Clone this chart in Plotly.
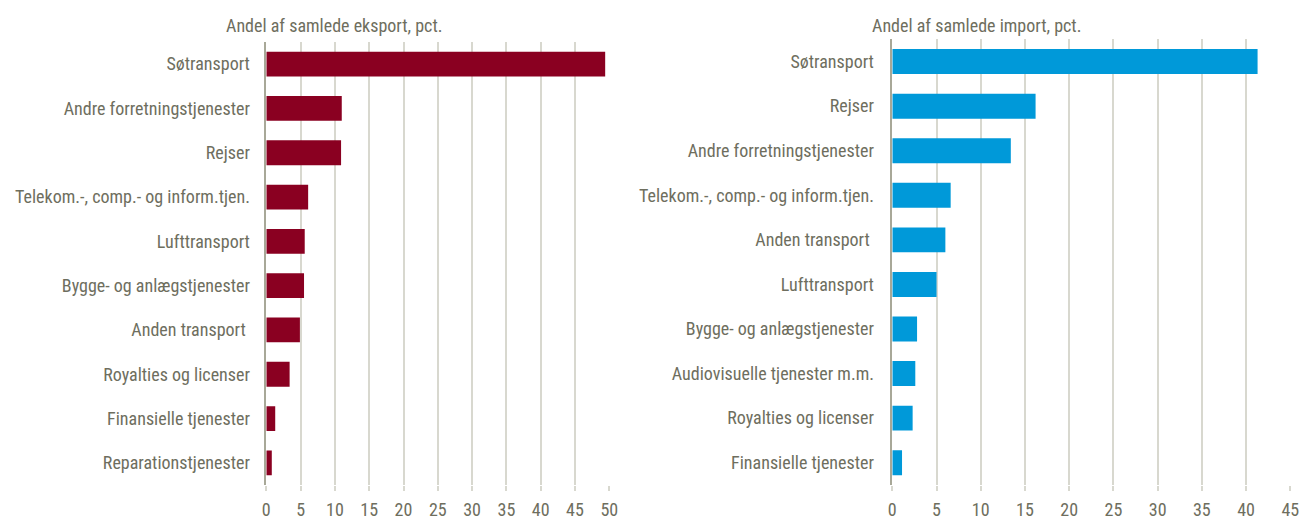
import plotly.graph_objects as go

export_cats = ["Søtransport", "Andre forretningstjenester", "Rejser",
               "Telekom.-, comp.- og inform.tjen.", "Lufttransport",
               "Bygge- og anlægstjenester", "Anden transport ",
               "Royalties og licenser", "Finansielle tjenester",
               "Reparationstjenester"]
export_vals = [49.4, 11.0, 10.9, 6.1, 5.6, 5.5, 4.9, 3.4, 1.3, 0.8]

import_cats = ["Søtransport", "Rejser", "Andre forretningstjenester",
               "Telekom.-, comp.- og inform.tjen.", "Anden transport ",
               "Lufttransport", "Bygge- og anlægstjenester",
               "Audiovisuelle tjenester m.m.", "Royalties og licenser",
               "Finansielle tjenester"]
import_vals = [41.3, 16.2, 13.4, 6.6, 6.0, 5.0, 2.8, 2.6, 2.3, 1.1]

left_ticks = list(range(0, 51, 5))
right_ticks = list(range(0, 46, 5))

title_left = "Andel af samlede eksport, pct."
title_right = "Andel af samlede import, pct."

TXT = "#6E6E5E"
GRID = "#D8D8CF"
ZERO = "#A8A898"
FONT = "Liberation Sans Narrow, Roboto Condensed, Arial Narrow, Liberation Sans, sans-serif"
FS = 18

fig = go.Figure()
fig.add_trace(go.Bar(x=export_vals, y=export_cats, orientation="h",
                     marker=dict(color="#8A0021", line=dict(width=0)),
                     xaxis="x", yaxis="y", showlegend=False))
fig.add_trace(go.Bar(x=import_vals, y=import_cats, orientation="h",
                     marker=dict(color="#0099D9", line=dict(width=0)),
                     xaxis="x2", yaxis="y2", showlegend=False))

def xax(domain, ticks, rng, anchor):
    return dict(domain=domain, range=rng, tickvals=ticks, ticktext=[str(t) for t in ticks],
                showgrid=True, gridcolor=GRID, gridwidth=1.5, zeroline=False,
                ticks="outside", ticklen=5, tickcolor=GRID, tickwidth=1.5,
                showline=False, anchor=anchor, fixedrange=True, automargin=False,
                tickfont=dict(size=FS, color=TXT, family=FONT), ticklabelstandoff=3)

def yax(domain, cats, anchor, standoff):
    return dict(domain=domain, type="category", categoryorder="array",
                categoryarray=list(reversed(cats)), showline=True, linecolor=ZERO,
                linewidth=1.5, ticks="", anchor=anchor, showgrid=False, automargin=False,
                fixedrange=True,
                tickfont=dict(size=FS, color=TXT, family=FONT), ticklabelstandoff=standoff)

fig.update_layout(
    width=1302, height=520,
    margin=dict(l=0, r=0, t=0, b=0, autoexpand=False),
    paper_bgcolor="white", plot_bgcolor="white",
    bargap=0.44,
    font=dict(family=FONT, color=TXT, size=FS),
    xaxis=xax([266.3 / 1302, 609.3 / 1302], left_ticks, [0, 50], "y"),
    yaxis=yax([1 - 485 / 520, 1 - 42 / 520], export_cats, "x", 11),
    xaxis2=xax([892.3 / 1302, 1290.3 / 1302], right_ticks, [0, 45], "y2"),
    yaxis2=yax([1 - 485 / 520, 1 - 39.3 / 520], import_cats, "x2", 13),
    annotations=[
        dict(text=title_left, x=224 / 1302, y=1 - 25 / 520, xref="paper", yref="paper",
             xanchor="left", yanchor="middle", showarrow=False,
             font=dict(size=FS, color=TXT, family=FONT)),
        dict(text=title_right, x=870 / 1302, y=1 - 25 / 520, xref="paper", yref="paper",
             xanchor="left", yanchor="middle", showarrow=False,
             font=dict(size=FS, color=TXT, family=FONT)),
    ],
)

fig.write_html("out.html", config={"displayModeBar": False},
               post_script="document.body.style.margin='0';document.body.style.overflow='hidden';")
